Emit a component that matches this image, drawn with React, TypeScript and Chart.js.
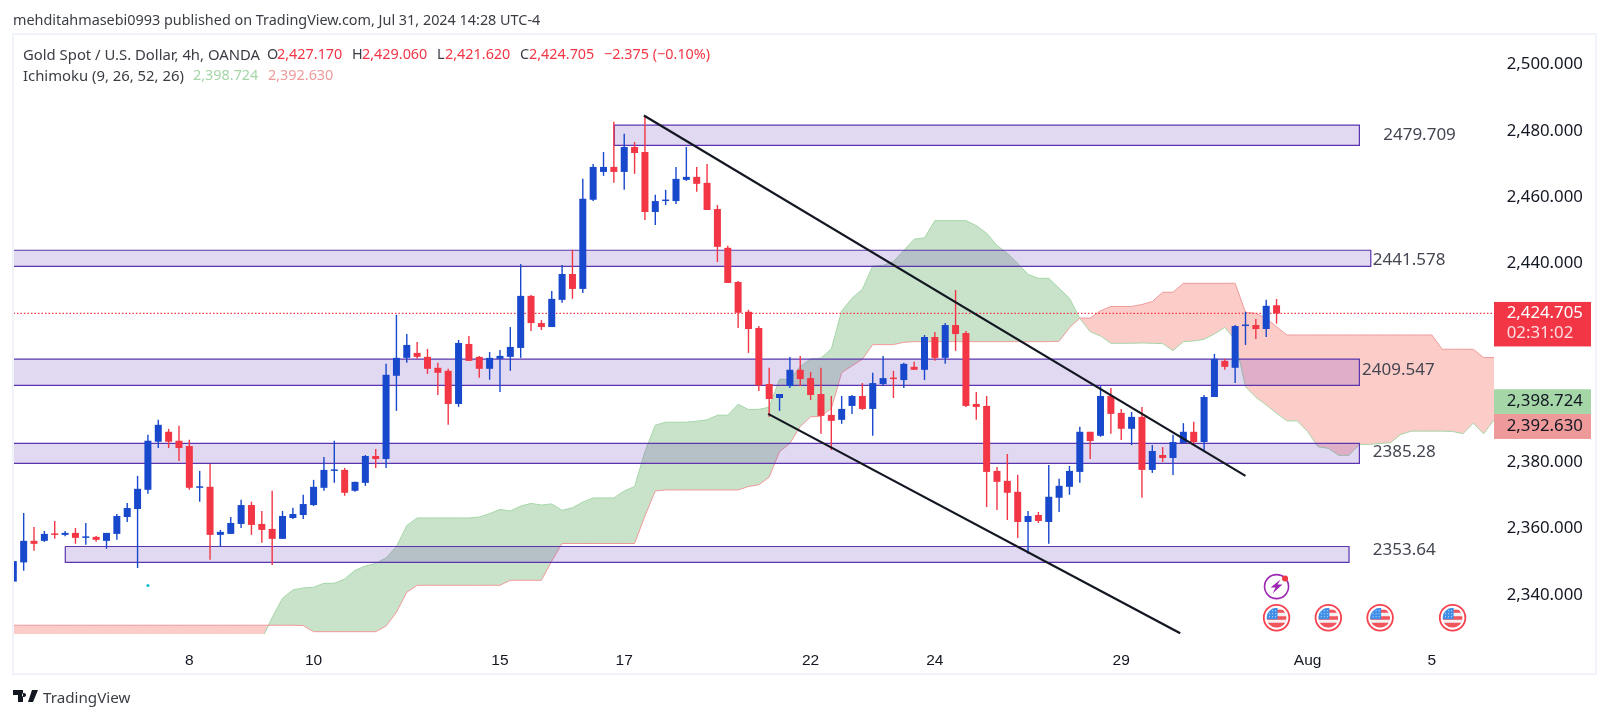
import React, { useEffect, useRef } from "react";
import { Chart, registerables } from "chart.js";

Chart.register(...registerables);

const opens = [2343.8,2349.6,2356.1,2356.1,2358.2,2357.9,2358.5,2357.0,2357.3,2356.1,
2358.2,2363.3,2365.7,2371.5,2386.0,2389.0,2386.3,2384.7,2372.1,2372.4,
2357.9,2358.2,2361.2,2366.9,2361.2,2359.7,2356.7,2363.0,2363.9,2366.9,
2372.1,2377.2,2377.5,2371.2,2373.6,2381.7,2380.8,2405.9,2411.3,2412.8,
2411.6,2408.3,2407.4,2397.4,2415.5,2411.6,2408.0,2411.0,2411.6,2414.3,
2430.0,2421.8,2420.6,2428.8,2436.6,2432.1,2459.0,2467.4,2468.9,2467.4,
2474.9,2473.4,2455.3,2458.6,2458.6,2465.0,2465.9,2464.1,2456.2,2444.5,
2434.2,2425.2,2420.3,2403.4,2399.2,2402.8,2407.7,2405.2,2400.4,2394.1,
2392.6,2396.8,2399.8,2395.9,2403.4,2405.2,2404.6,2408.6,2407.7,2417.6,
2411.3,2421.2,2418.8,2397.4,2396.8,2377.2,2374.2,2370.9,2361.8,2363.9,
2361.8,2369.1,2372.4,2376.9,2389.0,2387.8,2399.8,2394.7,2389.9,2393.5,
2377.5,2382.0,2381.1,2385.6,2389.0,2385.9,2399.5,2410.4,2408.3,2420.9,
2421.2,2420.0,2427.17];
const closes = [2350.0,2356.1,2355.2,2358.2,2357.9,2358.5,2357.0,2357.3,2356.4,2358.5,
2363.6,2366.0,2371.8,2386.3,2391.1,2386.0,2384.1,2372.1,2372.4,2357.9,
2358.8,2361.5,2366.9,2360.9,2359.4,2356.7,2363.6,2364.2,2367.2,2372.4,
2377.5,2377.5,2370.6,2373.9,2381.7,2380.8,2406.2,2411.3,2415.2,2411.6,
2408.0,2406.8,2397.4,2415.8,2410.4,2408.0,2411.3,2411.9,2414.6,2430.0,
2421.8,2420.6,2429.1,2436.6,2432.1,2459.3,2468.9,2468.9,2467.4,2474.9,
2473.1,2455.3,2458.6,2459.0,2465.3,2465.9,2463.8,2455.9,2444.8,2433.9,
2424.9,2420.0,2403.0,2398.9,2400.4,2407.7,2404.9,2400.1,2393.8,2392.3,
2395.9,2399.8,2395.9,2403.7,2405.2,2404.9,2409.5,2407.7,2417.6,2411.3,
2421.2,2418.5,2396.8,2396.5,2376.9,2373.9,2370.6,2361.8,2363.6,2362.1,
2369.4,2372.7,2377.2,2389.0,2386.2,2399.8,2394.4,2389.9,2393.5,2377.5,
2383.2,2381.1,2385.9,2389.0,2385.9,2399.5,2411.0,2408.6,2420.9,2421.2,
2420.0,2427.0,2424.705];
const highs = [2355.7,2364.5,2360.3,2359.1,2362.1,2359.1,2360.0,2361.5,2357.6,2358.5,
2364.2,2367.5,2375.7,2388.1,2392.6,2389.9,2390.8,2386.6,2377.2,2379.3,
2359.4,2363.3,2368.5,2367.9,2365.1,2371.2,2365.1,2366.1,2370.0,2374.5,
2381.4,2386.3,2378.1,2373.9,2382.0,2383.8,2409.5,2424.3,2418.5,2416.1,
2414.0,2409.8,2408.0,2416.7,2417.9,2411.9,2413.1,2413.7,2420.6,2439.6,
2430.3,2422.7,2431.5,2439.3,2443.9,2465.3,2469.8,2473.4,2482.5,2478.9,
2476.4,2484.3,2460.5,2462.0,2468.9,2474.9,2468.9,2469.8,2457.4,2445.1,
2434.5,2425.8,2420.9,2408.3,2400.4,2411.6,2411.9,2407.1,2408.3,2399.8,
2399.8,2400.1,2403.7,2406.8,2411.9,2407.4,2409.8,2410.1,2418.2,2419.1,
2421.8,2431.8,2419.4,2401.0,2399.8,2378.4,2382.3,2376.0,2365.1,2364.8,
2379.0,2374.8,2378.7,2390.5,2389.0,2402.8,2402.2,2395.9,2395.0,2396.5,
2385.0,2384.4,2388.1,2391.6,2392.0,2400.1,2412.5,2411.0,2421.2,2425.2,
2423.0,2428.8,2429.06];
const lows = [2341.6,2347.1,2353.1,2355.8,2356.7,2357.5,2355.2,2354.9,2355.8,2353.7,
2356.4,2361.8,2347.9,2370.3,2384.1,2384.1,2380.2,2371.5,2367.9,2350.4,
2354.4,2358.2,2360.0,2357.9,2355.5,2348.8,2356.7,2362.7,2362.7,2366.6,
2371.2,2373.6,2369.7,2370.9,2372.7,2378.1,2378.1,2395.3,2409.8,2411.0,
2406.5,2400.1,2391.1,2396.5,2410.4,2405.3,2404.7,2401.0,2407.4,2411.3,
2419.4,2419.7,2420.6,2427.9,2429.1,2430.9,2458.6,2466.2,2464.1,2462.0,
2466.8,2452.9,2451.4,2457.4,2457.7,2464.7,2461.4,2455.9,2440.2,2433.9,
2420.3,2412.8,2401.3,2393.5,2395.3,2402.2,2402.8,2398.6,2388.4,2383.5,
2391.4,2394.4,2395.6,2387.8,2402.8,2399.2,2402.2,2407.7,2404.6,2410.4,
2409.5,2413.4,2396.5,2392.6,2366.3,2365.4,2362.4,2357.0,2352.2,2361.5,
2355.2,2364.8,2370.0,2373.6,2380.8,2387.5,2388.4,2386.5,2385.0,2369.1,
2376.6,2379.9,2376.0,2385.6,2385.3,2383.2,2399.5,2407.7,2403.7,2415.2,
2417.0,2417.6,2421.62];

const spanA = [2320,2320,2320,2320,2320,2320,2320,2320,2320,2320,
2320,2320,2320,2320,2320,2320,2320,2320,2320,2320,
2320,2320,2320,2320,2326.4,2333.0,2338.8,2341.3,2341.9,2342.1,
2343.3,2343.3,2344.6,2347.2,2348.5,2349.3,2350.95,2354.4,2360.7,2363.0,
2363.0,2363.0,2363.0,2363.0,2363.0,2363.3,2364.3,2365.6,2365.1,2366.6,
2367.4,2366.9,2367.25,2365.3,2366.1,2367.8,2369.05,2369.05,2369.05,2371.15,
2372.5,2383.0,2391.0,2391.9,2391.9,2391.9,2392.2,2392.6,2394.0,2394.0,
2397.3,2395.7,2395.8,2396.4,2404.85,2404.85,2408.7,2411.0,2411.2,2414.0,
2425.45,2429.3,2432.0,2439.0,2439.2,2440.35,2443.7,2447.1,2447.5,2452.7,
2452.7,2452.7,2452.7,2451.2,2448.9,2445.2,2442.85,2439.8,2436.5,2435.3,
2435.3,2432.3,2429.3,2423.2,2419.2,2417.9,2415.7,2415.7,2415.7,2415.8,
2415.7,2415.6,2413.5,2416.2,2416.4,2416.9,2418.5,2420.5,2416.7,2402.6,
2399.4,2397.1,2394.6,2392.3,2392.3,2389.05,2384.5,2384.0,2381.9,2381.9,
2385.2,2385.2,2385.5,2385.7,2388.2,2389.2,2389.2,2389.2,2389.2,2389.1,
2388.4,2391.6,2388.4,2392.6];
const spanB = [2330.65,2330.65,2330.65,2330.65,2330.65,2330.65,2330.65,2330.65,2330.65,2330.65,
2330.65,2330.65,2330.65,2330.65,2330.65,2330.65,2330.65,2330.65,2330.65,2330.65,
2330.65,2330.65,2330.65,2330.65,2330.65,2330.65,2330.65,2330.65,2330.55,2328.7,
2328.7,2328.7,2328.7,2328.7,2328.7,2328.7,2330.4,2334.55,2340.6,2342.7,
2342.7,2342.7,2342.7,2342.7,2342.7,2342.7,2342.7,2342.7,2344.2,2344.2,
2344.2,2344.2,2350.0,2355.3,2355.3,2355.3,2355.3,2355.3,2355.3,2355.3,
2355.3,2363.6,2371.15,2371.45,2371.45,2371.45,2371.45,2371.45,2371.45,2371.45,
2371.45,2372.5,2373.0,2375.3,2383.0,2385.5,2390.6,2393.5,2393.7,2396.0,
2406.85,2408.9,2410.9,2415.3,2415.3,2415.3,2416.0,2416.2,2416.2,2416.2,
2416.2,2416.2,2416.2,2416.2,2416.2,2416.2,2416.2,2416.2,2416.2,2416.2,
2416.2,2416.3,2420.4,2423.3,2423.3,2425.5,2426.8,2426.8,2426.8,2427.4,
2428.3,2431.1,2431.1,2433.8,2433.8,2433.8,2433.8,2433.8,2433.8,2425.05,
2424.75,2423.2,2420.7,2418.2,2418.2,2418.2,2418.2,2418.2,2418.2,2418.2,
2418.2,2418.2,2418.2,2418.2,2418.2,2418.2,2418.2,2418.2,2413.9,2413.9,
2413.9,2413.9,2411.4,2411.4];

const zoneStarts = [58.04, -2, -2, -2, 5.02];
const zoneEnds = [130, 131.1, 130, 130, 129];
const zoneTops = [2481.5, 2443.76, 2410.9, 2385.5, 2354.4];
const zoneBottoms = [2475.4, 2438.93, 2403.0, 2379.5, 2349.6];
const zoneLabels = ["2479.709", "2441.578", "2409.547", "2385.28", "2353.64"];
const zoneLabelIdx = [132.3, 131.3, 130.25, 131.3, 131.3];
const zoneLabelPrices = [2478.5, 2440.8, 2407.7, 2382.9, 2353.4];

const trendXs = [[60.9, 119.0], [72.9, 112.7]];
const trendYs = [[2484.4, 2375.7], [2394.4, 2328.2]];

const lastPrice = 2424.705;
const xTickPositions = [17, 29, 47, 59, 77, 89, 107, 125, 137];
const xTickLabels = ["8", "10", "15", "17", "22", "24", "29", "Aug", "5"];
const yTicks = [2340, 2360, 2380, 2440, 2460, 2480, 2500];
const splashIdx = [13];
const splashPrice = [2342.6];
const boltIdx = 122;
const boltPrice = 2342.3;
const flagIdx = [122, 127, 132, 139];
const flagPrice = 2332.9;

const UP = "#1848CC";
const DOWN = "#F23645";
const ZONE_LINE = "#5B34B0";
const ZONE_FILL = "rgba(103,58,183,0.2)";
const FONT = '"Noto Sans", sans-serif';

const headerSpans: [string, number, number, string, number][] = [
  ["mehditahmasebi0993 published on TradingView.com, Jul 31, 2024 14:28 UTC-4", 13, 20, "#3b3d45", 14.4],
  ["Gold Spot / U.S. Dollar, 4h, OANDA", 23, 54, "#3b3d45", 14.85],
  ["O", 267, 54, "#3b3d45", 14.4],
  ["2,427.170", 277, 54, DOWN, 14.4],
  ["H", 352, 54, "#3b3d45", 14.4],
  ["2,429.060", 362, 54, DOWN, 14.4],
  ["L", 437, 54, "#3b3d45", 14.4],
  ["2,421.620", 445, 54, DOWN, 14.4],
  ["C", 520, 54, "#3b3d45", 14.4],
  ["2,424.705", 529, 54, DOWN, 14.4],
  ["\u22122.375 (\u22120.10%)", 604, 54, DOWN, 14.4],
  ["Ichimoku (9, 26, 52, 26)", 23, 75, "#3b3d45", 14.85],
  ["2,398.724", 193, 75, "#A5D6A7", 14.4],
  ["2,392.630", 268, 75, "#EF9A9A", 14.4],
];

const overlay = {
  id: "overlay",
  afterDatasetsDraw(chart: any) {
    const { ctx, scales } = chart;
    const x = scales.x;
    const y = scales.y;
    ctx.save();
    ctx.font = `17px ${FONT}`;
    ctx.fillStyle = "#434651";
    ctx.textBaseline = "middle";
    ctx.textAlign = "left";
    zoneLabels.forEach((t, i) => {
      ctx.fillText(t, x.getPixelForValue(zoneLabelIdx[i]), y.getPixelForValue(zoneLabelPrices[i]));
    });
    // bolt event icon
    const bx = x.getPixelForValue(boltIdx);
    const by = y.getPixelForValue(boltPrice);
    ctx.strokeStyle = "#9C27B0";
    ctx.lineWidth = 1.6;
    ctx.beginPath();
    ctx.arc(bx, by, 12, 0, Math.PI * 2);
    ctx.stroke();
    ctx.fillStyle = "#9C27B0";
    ctx.beginPath();
    ctx.moveTo(bx + 4, by - 7);
    ctx.lineTo(bx - 6, by + 1);
    ctx.lineTo(bx - 1, by + 1);
    ctx.lineTo(bx - 4, by + 7);
    ctx.lineTo(bx + 6, by - 2);
    ctx.lineTo(bx + 1, by - 2);
    ctx.closePath();
    ctx.fill();
    ctx.fillStyle = DOWN;
    ctx.beginPath();
    ctx.arc(bx + 8.5, by - 8, 3, 0, Math.PI * 2);
    ctx.fill();
    // US flag event icons
    const fy = y.getPixelForValue(flagPrice);
    flagIdx.forEach((idx) => {
      const fx = x.getPixelForValue(idx);
      ctx.save();
      ctx.fillStyle = "#fff";
      ctx.beginPath();
      ctx.arc(fx, fy, 13, 0, Math.PI * 2);
      ctx.fill();
      ctx.strokeStyle = "#F6414F";
      ctx.lineWidth = 1.8;
      ctx.beginPath();
      ctx.arc(fx, fy, 12.8, 0, Math.PI * 2);
      ctx.stroke();
      ctx.beginPath();
      ctx.arc(fx, fy, 10, 0, Math.PI * 2);
      ctx.clip();
      ctx.fillStyle = "#F5F0F0";
      ctx.fillRect(fx - 10, fy - 10, 20, 20);
      ctx.fillStyle = "#F0545C";
      ctx.fillRect(fx - 10, fy - 1.5, 20, 3.5);
      ctx.fillRect(fx - 10, fy + 5, 20, 5);
      ctx.fillRect(fx, fy - 8, 10, 3);
      ctx.fillStyle = "#3E8EE8";
      ctx.fillRect(fx - 10, fy - 10, 11, 11.5);
      ctx.fillStyle = "#CFE3FA";
      for (let a = 0; a < 3; a++) {
        for (let b = 0; b < 3; b++) {
          ctx.fillRect(fx - 7.5 + a * 3, fy - 7.5 + b * 3, 1, 1);
        }
      }
      ctx.restore();
    });
    ctx.restore();
  },
  afterDraw(chart: any) {
    const { ctx, scales } = chart;
    const y = scales.y;
    const left = chart.chartArea.right;
    ctx.save();
    const tags: [string, number, number, number, string, string][] = [
      ["2,398.724", 2398.724, -10.3, 14.4, "#A5D6A7", "#131722"],
      ["2,392.630", 2392.63, -5.8, 19.2, "#EF9A9A", "#131722"],
    ];
    ctx.font = `16.8px ${FONT}`;
    ctx.textBaseline = "middle";
    ctx.textAlign = "left";
    tags.forEach(([t, v, up, down, bg, fg]) => {
      const p = y.getPixelForValue(v);
      ctx.fillStyle = bg;
      ctx.fillRect(left, p + up, 97, down - up);
      ctx.fillStyle = fg;
      ctx.fillText(t, left + 12.7, p + (up + down) / 2);
    });
    const p = y.getPixelForValue(lastPrice);
    ctx.fillStyle = DOWN;
    ctx.fillRect(left, p - 11.5, 97, 44.5);
    ctx.fillStyle = "#fff";
    ctx.fillText("2,424.705", left + 12.7, p);
    ctx.fillStyle = "#FBDDE0";
    ctx.fillText("02:31:02", left + 12.7, p + 20);
    ctx.strokeStyle = "#F0F3FA";
    ctx.lineWidth = 2;
    ctx.strokeRect(13, 34, 1583, 640);
    ctx.restore();
  },
};

export default function App() {
  const ref = useRef<HTMLCanvasElement>(null);
  useEffect(() => {
    const ohlcPoints = opens.map((o, i) => ({ x: i, y: [o, closes[i]] }));
    const wickPoints = lows.map((l, i) => ({ x: i, y: [l, highs[i]] }));
    const candleColors = opens.map((o, i) => (closes[i] >= o ? UP : DOWN));
    const lineBase = { type: "line", pointRadius: 0, tension: 0, parsing: true };
    const zoneDatasets: any[] = [];
    zoneTops.forEach((top, i) => {
      const bottom = zoneBottoms[i];
      const a = zoneStarts[i];
      const b = zoneEnds[i];
      zoneDatasets.push({
        ...lineBase,
        data: [{ x: a, y: top }, { x: b, y: top }],
        borderWidth: 0,
        borderColor: "transparent",
        backgroundColor: ZONE_FILL,
        fill: { target: { value: bottom } },
        order: 40,
      });
      zoneDatasets.push({
        ...lineBase,
        data: [{ x: a, y: top }, { x: b, y: top }, { x: b, y: bottom }, { x: a, y: bottom }, { x: a, y: top }],
        borderWidth: 1.2,
        borderColor: ZONE_LINE,
        fill: false,
        order: 39,
      });
    });
    const chart = new Chart(ref.current!, {
      type: "bar",
      plugins: [overlay],
      data: {
        datasets: [
          {
            ...lineBase,
            data: spanA.map((v, i) => ({ x: i, y: v })),
            borderColor: "#A5D6A7",
            borderWidth: 1,
            fill: { target: "+1", above: "rgba(67,160,71,0.29)", below: "rgba(244,67,54,0.27)" },
            order: 50,
          },
          {
            ...lineBase,
            data: spanB.map((v, i) => ({ x: i, y: v })),
            borderColor: "#EF9A9A",
            borderWidth: 1,
            fill: false,
            order: 49,
          },
          ...zoneDatasets,
          {
            ...lineBase,
            data: [{ x: -1, y: lastPrice }, { x: 143.1, y: lastPrice }],
            borderColor: DOWN,
            borderWidth: 1.2,
            borderDash: [1.5, 2],
            fill: false,
            order: 30,
          },
          {
            data: wickPoints,
            backgroundColor: candleColors,
            barThickness: 1.4,
            grouped: false,
            inflateAmount: 0,
            order: 20,
          },
          {
            data: ohlcPoints,
            backgroundColor: candleColors,
            barThickness: 7,
            grouped: false,
            minBarLength: 1.5,
            inflateAmount: 0,
            order: 10,
          },
          ...trendXs.map((xs, i) => ({
            ...lineBase,
            data: xs.map((v, j) => ({ x: v, y: trendYs[i][j] })),
            borderColor: "#131722",
            borderWidth: 2.2,
            fill: false,
            order: 5,
          })),
          {
            type: "scatter",
            data: splashIdx.map((v, i) => ({ x: v, y: splashPrice[i] })),
            pointRadius: 1.5,
            pointBackgroundColor: "#00BCD4",
            pointBorderWidth: 0,
            order: 4,
          },
        ] as any,
      },
      options: {
        responsive: false,
        animation: false,
        devicePixelRatio: 1,
        layout: { padding: { left: 13, top: 35, right: 14, bottom: 45 }, autoPadding: false },
        plugins: { legend: { display: false }, tooltip: { enabled: false }, title: { display: false } },
        events: [],
        scales: {
          x: {
            type: "linear",
            offset: false,
            min: -0.03,
            max: 143,
            grid: { display: false },
            border: { display: false },
            afterBuildTicks: (s: any) => {
              s.ticks = xTickPositions.map((value) => ({ value }));
            },
            afterFit: (s: any) => {
              s.height = 39;
            },
            ticks: {
              autoSkip: false,
              maxRotation: 0,
              padding: 9,
              color: "#131722",
              font: { family: '"Liberation Sans", sans-serif', size: 15.5 },
              callback: (v: any) => xTickLabels[xTickPositions.indexOf(v)],
            },
          },
          y: {
            type: "linear",
            position: "right",
            min: 2328.0,
            max: 2508.7,
            grid: { display: false, drawTicks: false },
            border: { display: false },
            afterBuildTicks: (s: any) => {
              s.ticks = yTicks.map((value) => ({ value }));
            },
            afterFit: (s: any) => {
              s.width = 101;
            },
            ticks: {
              padding: 12.7,
              labelOffset: 0.7,
              color: "#131722",
              font: { family: FONT, size: 16.8 },
              callback: (v: any) =>
                Number(v).toLocaleString("en-US", { minimumFractionDigits: 3, maximumFractionDigits: 3 }),
            },
          },
        },
      } as any,
    });
    return () => chart.destroy();
  }, []);
  return (
    <div style={{ position: "absolute", left: 0, top: 0, width: 1609, height: 718, background: "#fff", overflow: "hidden" }}>
      <canvas ref={ref} width={1609} height={718} style={{ display: "block" }} />
      {headerSpans.map(([t, x, y, c, s], i) => (
        <span
          key={i}
          style={{
            position: "absolute",
            left: x,
            top: y - 10,
            lineHeight: "20px",
            fontFamily: FONT,
            fontSize: s,
            color: c,
            whiteSpace: "nowrap",
          }}
        >
          {t}
        </span>
      ))}
      <svg style={{ position: "absolute", left: 13, top: 689 }} width="25" height="14" viewBox="0 0 25 14">
        <path d="M0 1h10v12H5V6H0z M11 4a2 2 0 1 0 0.01 0z M15 13L19 1h6l-5 12z" fill="#131722" />
      </svg>
      <span
        style={{
          position: "absolute",
          left: 43,
          top: 687,
          lineHeight: "20px",
          fontFamily: FONT,
          fontSize: 15.2,
          color: "#3b3d45",
        }}
      >
        TradingView
      </span>
    </div>
  );
}
